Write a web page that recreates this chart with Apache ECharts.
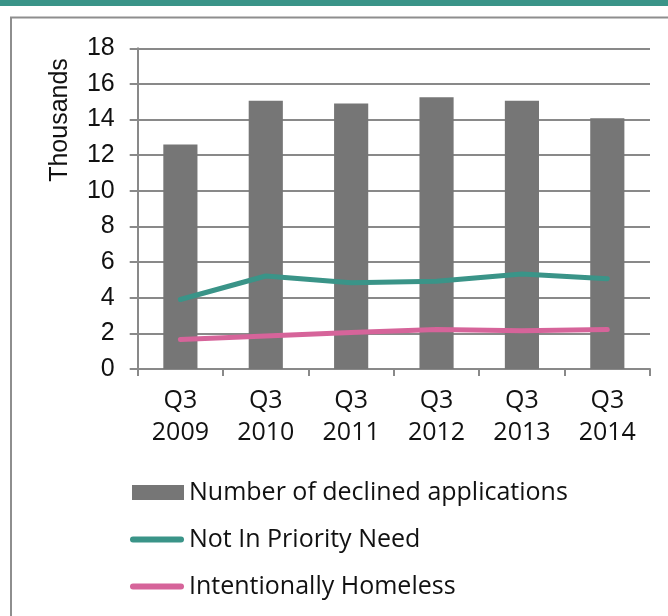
<!DOCTYPE html>
<html>
<head>
<meta charset="utf-8">
<script src="https://cdn.jsdelivr.net/npm/echarts@6/dist/echarts.min.js"></script>
<style>html,body{margin:0;padding:0;background:#fff;}#c{width:668px;height:616px;}</style>
</head>
<body>
<div id="c"></div>
<script>
var categories = ['Q3\n2009', 'Q3\n2010', 'Q3\n2011', 'Q3\n2012', 'Q3\n2013', 'Q3\n2014'];
var declined = [12.6, 15.05, 14.9, 15.25, 15.05, 14.08];
var notPriority = [3.9, 5.22, 4.84, 4.92, 5.33, 5.07];
var intentional = [1.65, 1.85, 2.05, 2.22, 2.15, 2.22];
var yTicks = { min: 0, max: 18, interval: 2 };

var chart = echarts.init(document.getElementById('c'));
var grey = '#898989';
var capsule = 'path://M3,0 L51,0 A3,3 0 0 1 51,6 L3,6 A3,3 0 0 1 3,0 Z';
var legendText = { fontFamily: '"Open Sans"', fontSize: 25, color: '#111' };
chart.setOption({
  animation: false,
  backgroundColor: '#fff',
  graphic: [
    { type: 'rect', shape: { x: 0, y: 0, width: 668, height: 6 }, style: { fill: '#3a9488' } },
    { type: 'rect', shape: { x: 11, y: 17.5, width: 720, height: 700 }, style: { fill: 'none', stroke: '#8e8e8e', lineWidth: 2 } },
    { type: 'text', x: 60, y: 120, rotation: Math.PI / 2,
      style: { text: 'Thousands', font: '25px "Liberation Sans", Arial, sans-serif', fill: '#111', textAlign: 'center', textVerticalAlign: 'middle' } }
  ],
  grid: { left: 137.7, right: 18, top: 48.3, bottom: 247, containLabel: false },
  legend: [
    { left: 132, top: 480, padding: 0, itemWidth: 52, itemHeight: 15, textStyle: legendText,
      data: [{ name: 'Number of declined applications', icon: 'rect' }] },
    { left: 130, top: 527, padding: 0, itemWidth: 54, itemHeight: 6, textStyle: legendText,
      data: [{ name: 'Not In Priority Need', icon: capsule }] },
    { left: 130, top: 574, padding: 0, itemWidth: 54, itemHeight: 6, textStyle: legendText,
      data: [{ name: 'Intentionally Homeless', icon: capsule }] }
  ],
  xAxis: {
    type: 'category', data: categories,
    axisLine: { lineStyle: { color: grey, width: 2 } },
    axisTick: { show: true, length: 7, lineStyle: { color: grey, width: 2 } },
    axisLabel: { fontFamily: '"Open Sans"', fontSize: 25, color: '#111', lineHeight: 32, margin: 16, interval: 0 }
  },
  yAxis: {
    type: 'value', min: yTicks.min, max: yTicks.max, interval: yTicks.interval,
    axisLine: { show: true, lineStyle: { color: grey, width: 2 } },
    axisTick: { show: true, length: 8, lineStyle: { color: grey, width: 2 } },
    axisLabel: { fontFamily: '"Liberation Sans", Arial, sans-serif', fontSize: 25, color: '#111', margin: 23 },
    splitLine: { show: true, lineStyle: { color: grey, width: 2 } }
  },
  series: [
    { name: 'Number of declined applications', type: 'bar', data: declined, barWidth: '40%',
      itemStyle: { color: '#767676' }, z: 2 },
    { name: 'Not In Priority Need', type: 'line', data: notPriority, symbol: 'none',
      lineStyle: { color: '#3a9488', width: 5, cap: 'round', join: 'round' }, itemStyle: { color: '#3a9488' }, z: 3 },
    { name: 'Intentionally Homeless', type: 'line', data: intentional, symbol: 'none',
      lineStyle: { color: '#d6649a', width: 5, cap: 'round', join: 'round' }, itemStyle: { color: '#d6649a' }, z: 3 }
  ]
});
</script>
</body>
</html>
